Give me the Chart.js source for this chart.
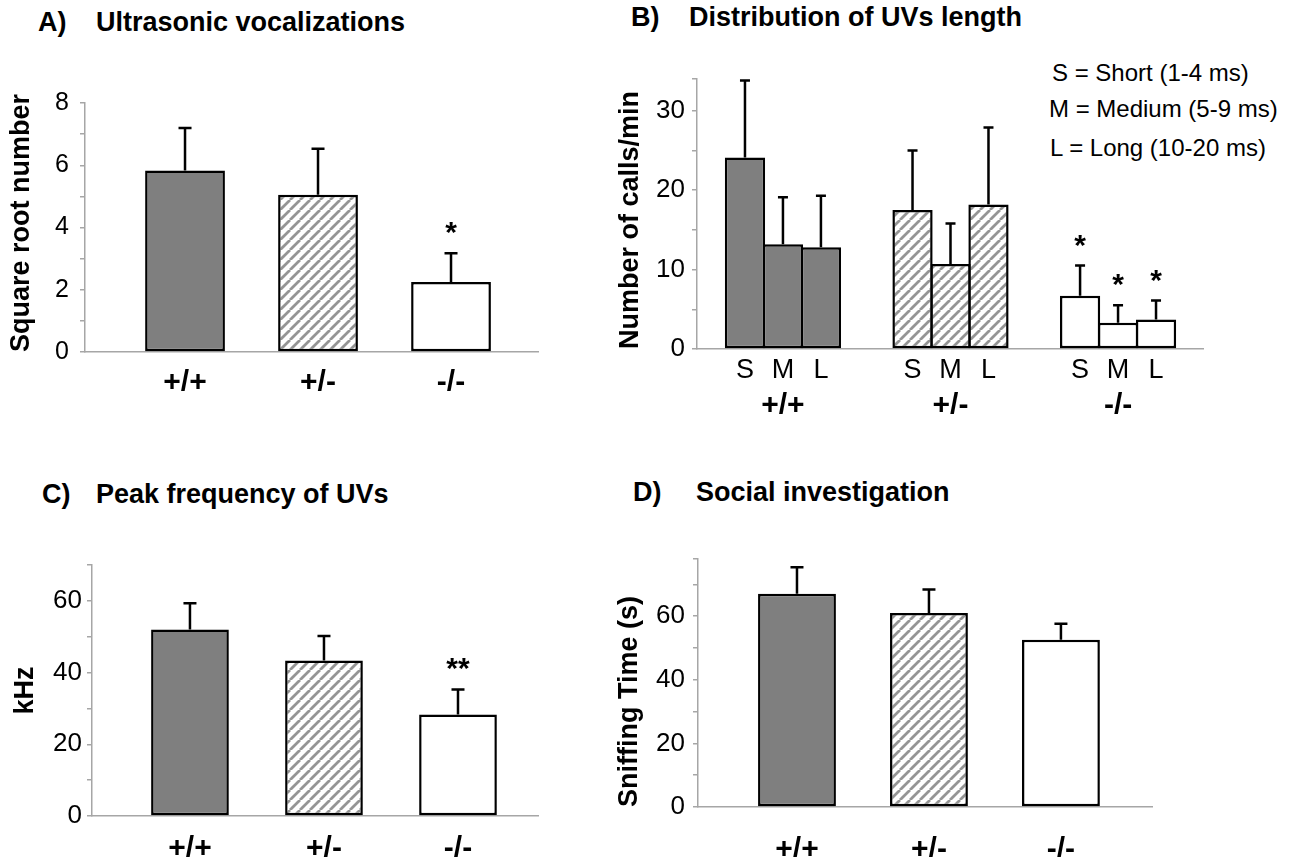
<!DOCTYPE html>
<html>
<head>
<meta charset="utf-8">
<script src="https://cdn.jsdelivr.net/npm/chart.js@4.4.1/dist/chart.umd.min.js"></script>
<style>
  body { margin: 0; width: 1297px; height: 857px; overflow: hidden; background: #fff; position: relative; font-family: 'Liberation Sans', Arial, sans-serif; }
  canvas { position: absolute; }
  .title { position: absolute; font-weight: bold; font-size: 27px; line-height: 32px; color: #000; white-space: nowrap; }
  .note { position: absolute; font-size: 24px; line-height: 28px; color: #000; white-space: nowrap; }
</style>
</head>
<body>

<div class="title" style="left:38px; top:6px">A)</div>
<div class="title" style="left:96px; top:6px">Ultrasonic vocalizations</div>
<div class="title" style="left:631px; top:1px">B)</div>
<div class="title" style="left:689px; top:1px">Distribution of UVs length</div>
<div class="title" style="left:42px; top:478px">C)</div>
<div class="title" style="left:96px; top:478px">Peak frequency of UVs</div>
<div class="title" style="left:633px; top:476px">D)</div>
<div class="title" style="left:696px; top:476px">Social investigation</div>

<div class="note" style="left:1052px; top:59px">S = Short (1-4 ms)</div>
<div class="note" style="left:1049px; top:95px">M = Medium (5-9 ms)</div>
<div class="note" style="left:1050px; top:134px">L = Long (10-20 ms)</div>

<canvas id="chart-a" width="560" height="360" style="left:0px; top:60px"></canvas>
<canvas id="chart-b" width="620" height="390" style="left:600px; top:40px"></canvas>
<canvas id="chart-c" width="560" height="350" style="left:0px; top:520px"></canvas>
<canvas id="chart-d" width="580" height="350" style="left:600px; top:520px"></canvas>

<script>
// genotype groups
const genotypes = ['+/+', '+/-', '-/-']

// A) ultrasonic vocalizations (square root number)
const uvMean = [5.83, 5.05, 2.25]
const uvSem = [1.37, 1.48, 0.92]
const uvSig = ['', '', '*']
const uvTicks = [0, 1, 2, 3, 4, 5, 6, 7, 8]

// B) distribution of UVs length (calls/min)
const lengthClasses = ['S', 'M', 'L']
const shortMean = [24.1, 17.5, 6.7]
const shortSem = [9.7, 7.5, 3.8]
const mediumMean = [13.2, 10.7, 3.3]
const mediumSem = [5.9, 5.1, 2.2]
const longMean = [12.8, 18.2, 3.7]
const longSem = [6.5, 9.7, 2.4]
const lengthSig = ['', '', '*']
const lengthTicks = [0, 5, 10, 15, 20, 25, 30, 34]

// C) peak frequency (kHz)
const freqMean = [52.0, 43.4, 28.3]
const freqSem = [7.3, 6.8, 7.0]
const freqSig = ['', '', '**']
const freqTicks = [0, 10, 20, 30, 40, 50, 60, 70]

// D) social investigation (sniffing time, s)
const sniffMean = [67.1, 61.0, 52.6]
const sniffSem = [8.3, 7.4, 5.0]
const sniffSig = ['', '', '']
const sniffTicks = [0, 10, 20, 30, 40, 50, 60, 70, 78]

const axisGray = '#a6a6a6'
const darkGray = '#7f7f7f'

const makeHatch = () => {
  const c = document.createElement('canvas')
  c.width = 10
  c.height = 10
  const g = c.getContext('2d')
  g.fillStyle = '#fff'
  g.fillRect(0, 0, 10, 10)
  g.strokeStyle = '#959595'
  g.lineWidth = 2.8
  g.beginPath()
  for (let x0 of [-10, 0, 10]) {
    g.moveTo(x0, 10)
    g.lineTo(x0 + 10, 0)
  }
  g.stroke()
  return g.createPattern(c, 'repeat')
}

const groupFills = [darkGray, makeHatch(), '#ffffff']

// error bars, significance stars and the S/M/L sub labels
const extrasPlugin = {
  id: 'extras',
  afterDatasetsDraw(chart, args, opts) {
    const ctx = chart.ctx
    const yScale = chart.scales.y
    ctx.save()
    chart.data.datasets.forEach((ds, di) => {
      const meta = chart.getDatasetMeta(di)
      meta.data.forEach((bar, i) => {
        const top = yScale.getPixelForValue(ds.data[i].y + ds.sem[i])
        ctx.strokeStyle = '#000'
        ctx.lineWidth = 2.5
        ctx.beginPath()
        ctx.moveTo(bar.x, bar.y)
        ctx.lineTo(bar.x, top)
        ctx.moveTo(bar.x - opts.cap / 2, top)
        ctx.lineTo(bar.x + opts.cap / 2, top)
        ctx.stroke()

        if (ds.sig && ds.sig[i]) {
          ctx.fillStyle = '#000'
          ctx.font = 'bold 30px "Liberation Sans", Arial'
          ctx.textAlign = 'center'
          ctx.textBaseline = 'alphabetic'
          ctx.fillText(ds.sig[i], bar.x, top - 28 + 17)
        }

        if (opts.subLabels) {
          ctx.fillStyle = '#000'
          ctx.font = '27px "Liberation Sans", Arial'
          ctx.textAlign = 'center'
          ctx.textBaseline = 'middle'
          ctx.fillText(ds.label, bar.x, yScale.bottom + 22)
        }
      })
    })
    ctx.restore()
  }
}

const toPoints = (values) => values.map((v, i) => ({ x: i, y: v }))

const makeChart = (id, cfg) => {
  const ctx = document.getElementById(id).getContext('2d')
  return new Chart(ctx, {
    type: 'bar',
    data: { datasets: cfg.datasets },
    plugins: [extrasPlugin],
    options: {
      responsive: false,
      animation: false,
      devicePixelRatio: 1,
      layout: { padding: cfg.padding },
      datasets: {
        bar: {
          borderColor: '#000',
          borderWidth: 2.5,
          borderSkipped: false,
          categoryPercentage: cfg.catPct,
          barPercentage: cfg.barPct,
          grouped: true
        }
      },
      plugins: {
        legend: { display: false },
        tooltip: { enabled: false },
        extras: { cap: cfg.cap, subLabels: cfg.subLabels || false }
      },
      scales: {
        x: {
          type: 'linear',
          offset: false,
          min: cfg.xMin,
          max: cfg.xMax,
          grid: { display: false, drawTicks: false },
          border: { display: true, color: axisGray, width: 1.5 },
          afterBuildTicks: (scale) => {
            scale.ticks = genotypes.map((g, i) => ({ value: i }))
          },
          afterFit: (scale) => { scale.height = cfg.xHeight },
          ticks: {
            autoSkip: false,
            maxRotation: 0,
            padding: cfg.xPad,
            color: '#000',
            font: { family: 'Liberation Sans', size: 30, weight: 'bold' },
            callback: (v) => genotypes[v]
          }
        },
        y: {
          min: 0,
          max: cfg.yTicks[cfg.yTicks.length - 1],
          grid: { drawOnChartArea: false, drawTicks: true, tickLength: 5, color: axisGray, lineWidth: 1.5 },
          border: { display: true, color: axisGray, width: 1.5 },
          afterBuildTicks: (scale) => {
            scale.ticks = cfg.yTicks.map((v) => ({ value: v }))
          },
          afterFit: (scale) => { scale.width = cfg.yWidth },
          ticks: {
            autoSkip: false,
            padding: cfg.yPad,
            color: '#000',
            font: { family: 'Liberation Sans', size: cfg.yFont },
            callback: (v) => (v % cfg.labelStep === 0 && v <= cfg.labelMax ? v : '')
          },
          title: {
            display: true,
            text: cfg.yTitle,
            align: cfg.titleAlign,
            color: '#000',
            padding: { top: cfg.titlePad, bottom: 0 },
            font: { family: 'Liberation Sans', size: 27, weight: 'bold' }
          }
        }
      }
    }
  })
}

makeChart('chart-a', {
  datasets: [{ label: 'mean', data: toPoints(uvMean), sem: uvSem, sig: uvSig, backgroundColor: groupFills }],
  padding: { top: 43, right: 22, left: 0, bottom: 0 },
  xMin: -0.752, xMax: 2.654, xHeight: 68, xPad: 13,
  yWidth: 85, yTicks: uvTicks, labelStep: 2, labelMax: 8, yFont: 25, yPad: 11,
  yTitle: 'Square root number', titleAlign: 'start', titlePad: 5,
  catPct: 1, barPct: 0.6, cap: 13
})

makeChart('chart-b', {
  datasets: [
    { label: lengthClasses[0], data: toPoints(shortMean), sem: shortSem, sig: lengthSig, backgroundColor: groupFills },
    { label: lengthClasses[1], data: toPoints(mediumMean), sem: mediumSem, sig: lengthSig, backgroundColor: groupFills },
    { label: lengthClasses[2], data: toPoints(longMean), sem: longSem, sig: lengthSig, backgroundColor: groupFills }
  ],
  padding: { top: 39, right: 17, left: 0, bottom: 0 },
  xMin: -0.513, xMax: 2.507, xHeight: 81, xPad: 39,
  yWidth: 97, yTicks: lengthTicks, labelStep: 10, labelMax: 30, yFont: 26, yPad: 7,
  yTitle: 'Number of calls/min', titleAlign: 'start', titlePad: 14,
  catPct: 0.68, barPct: 1.06, cap: 10, subLabels: true
})

makeChart('chart-c', {
  datasets: [{ label: 'mean', data: toPoints(freqMean), sem: freqSem, sig: freqSig, backgroundColor: groupFills }],
  padding: { top: 45, right: 22, left: 0, bottom: 0 },
  xMin: -0.731, xMax: 2.597, xHeight: 54, xPad: 15,
  yWidth: 92, yTicks: freqTicks, labelStep: 20, labelMax: 60, yFont: 26, yPad: 5,
  yTitle: 'kHz', titleAlign: 'center', titlePad: 9,
  catPct: 1, barPct: 0.58, cap: 13
})

makeChart('chart-d', {
  datasets: [{ label: 'mean', data: toPoints(sniffMean), sem: sniffSem, sig: sniffSig, backgroundColor: groupFills }],
  padding: { top: 39, right: 28, left: 0, bottom: 0 },
  xMin: -0.75, xMax: 2.69, xHeight: 63, xPad: 25,
  yWidth: 98, yTicks: sniffTicks, labelStep: 20, labelMax: 60, yFont: 26, yPad: 8,
  yTitle: 'Sniffing Time (s)', titleAlign: 'start', titlePad: 13,
  catPct: 1, barPct: 0.59, cap: 13
})
</script>
</body>
</html>
